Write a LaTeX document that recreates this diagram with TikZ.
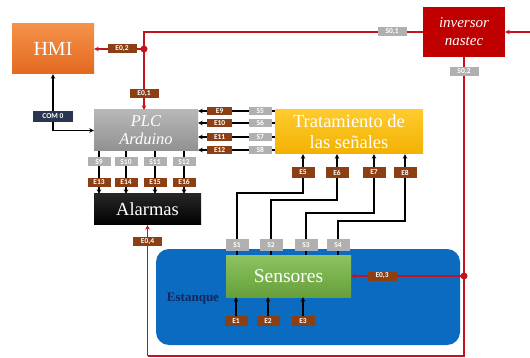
\documentclass[tikz,border=0pt]{standalone}
\usepackage{fontspec}
\setmainfont{Liberation Serif}
\setsansfont{Carlito}
\usepackage{xcolor}
\usepackage{tikz}
\usetikzlibrary{arrows.meta, positioning, calc}

\definecolor{hmitop}{HTML}{F5914A}
\definecolor{hmibot}{HTML}{E2691E}
\definecolor{invred}{HTML}{C00000}
\definecolor{plctop}{HTML}{B8B8B8}
\definecolor{plcbot}{HTML}{909090}
\definecolor{trattop}{HTML}{FFCB2E}
\definecolor{tratbot}{HTML}{F2B100}
\definecolor{alarmtop}{HTML}{262626}
\definecolor{alarmbot}{HTML}{000000}
\definecolor{senstop}{HTML}{8DC362}
\definecolor{sensbot}{HTML}{66A03A}
\definecolor{tankblue}{HTML}{0B6BC0}
\definecolor{tanktext}{HTML}{14265A}
\definecolor{labbrown}{HTML}{8B3F12}
\definecolor{labgray}{HTML}{B0B0B0}
\definecolor{comnavy}{HTML}{2A3650}
\definecolor{linered}{HTML}{C3141E}

\begin{document}
\begin{tikzpicture}[x=1pt, y=-1pt,
    block/.style={rectangle, text=white, align=center, inner sep=0pt},
    elab/.style={rectangle, fill=labbrown, text=white, font=\sffamily\bfseries\fontsize{7.5}{7.5}\selectfont, minimum width=23pt, minimum height=9pt, inner sep=0pt},
    slab/.style={elab, fill=labgray},
    dlab/.style={elab, minimum width=29pt},
    comlab/.style={elab, fill=comnavy, minimum width=40pt, minimum height=11pt},
    arr/.style={-{Stealth[length=4.5pt, width=4.5pt]}, line width=1.3pt},
    rarr/.style={arr, draw=linered, color=linered},
    rline/.style={line width=1.3pt, draw=linered},
    dot/.style={circle, fill=linered, minimum size=7pt, inner sep=0pt}
]
\useasboundingbox (0,0) rectangle (530,358);

% tank
\node[rectangle, rounded corners=13pt, fill=tankblue, minimum width=304pt, minimum height=96pt] (tank) at (308,297) {};
\node[font=\bfseries\fontsize{13}{13}\selectfont, text=tanktext] (estanque) at (193,299) {Estanque};

% blocks
\node[block, minimum width=82pt, minimum height=50pt, top color=hmitop, bottom color=hmibot,
    font=\fontsize{20}{20}\selectfont] (hmi) at (53,49) {HMI};
\node[block, minimum width=82pt, minimum height=50pt, fill=invred,
    font=\itshape\fontsize{15}{18}\selectfont] (inv) at (464,32) {inversor\\nastec};
\node[block, minimum width=104pt, minimum height=41pt, top color=plctop, bottom color=plcbot,
    font=\itshape\fontsize{16.5}{18}\selectfont] (plc) at (146,130.5) {PLC\\Arduino};
\node[block, minimum width=148pt, minimum height=44pt, top color=trattop, bottom color=tratbot,
    font=\fontsize{18.5}{21}\selectfont] (trat) at (349,132) {Tratamiento de\\las señales};
\node[block, minimum width=107pt, minimum height=31pt, top color=alarmtop, bottom color=alarmbot,
    font=\fontsize{18.5}{18.5}\selectfont] (alarm) at (147.5,209.5) {Alarmas};
\node[block, minimum width=125pt, minimum height=42pt, top color=senstop, bottom color=sensbot,
    font=\fontsize{19.5}{19.5}\selectfont] (sens) at (288.5,276) {Sensores};

% red power lines
\coordinate (j1) at (144,49);
\coordinate (ext) at (530,32);
\coordinate (rb) at (464,356);
\coordinate (lb) at (147.5,356);
\coordinate (j3) at (rb |- sens.east);

\draw[rline] (j1) -- (j1 |- inv.west) -- node[slab, pos=0.89, minimum width=29pt] {S0,1} (inv.west);
\draw[rarr] (ext) -- (inv.east);
\draw[rarr] (j1) -- node[dlab, pos=0.44] {E0,2} (hmi.east);
\draw[rarr] (j1) -- node[dlab, pos=0.74] {E0,1} (j1 |- plc.north);
\draw[rline] (inv.south) -- node[slab, pos=0.047, minimum width=29pt] {S0,2} (rb) -- (lb);
\draw[rarr] (lb) -- node[dlab, pos=0.874] {E0,4} (alarm.south);
\draw[rarr] (j3) -- node[dlab, pos=0.726] {E0,3} (sens.east);
\node[dot] (dot1) at (j1) {};
\node[dot] (dot3) at (j3) {};

% communication
\draw[{Stealth[length=4.5pt, width=4.5pt]}-{Stealth[length=4.5pt, width=4.5pt]}, line width=1.3pt]
    (hmi.south) -- node[comlab, pos=0.75] {COM 0} (hmi.south |- plc.west) -- (plc.west);

% PLC to alarms
\foreach \x/\i in {99/9, 126/10, 155/11, 184/12} {
    \pgfmathtruncatemacro\j{\i+4}
    \draw[arr] (plc.south -| \x,0) -- node[slab, pos=0.244] {S\i} node[elab, pos=0.73] {E\j} (alarm.north -| \x,0);
}

% signal treatment to PLC
\foreach \y/\i in {111/5, 123/6, 137/7, 150/8} {
    \pgfmathtruncatemacro\j{\i+4}
    \draw[arr] (trat.west |- 0,\y) -- node[slab, pos=0.19, minimum height=8pt] {S\i} node[elab, pos=0.72, minimum width=25pt, minimum height=8pt] {E\j} (plc.east |- 0,\y);
}

% sensors to signal treatment
\foreach \sx/\by/\tx/\n [count=\i] in {237/193/303/5, 271/200/337/6, 306/213/374/7, 338/221/405/8} {
    \draw[arr] (sens.north -| \sx,0) -- (\sx,\by) -| (trat.south -| \tx,0);
    \node[slab, minimum height=12pt] (s\i) at (\sx,245) {S\i};
    \node[elab, minimum height=11pt] (e\n) at (\tx,172.5) {E\n};
}

% sensor inputs
\foreach \x/\i in {236/1, 268/2, 303/3} {
    \node[elab, minimum height=10pt] (e\i) at (\x,321) {E\i};
    \draw[arr] (e\i) -- (sens.south -| e\i);
}

\end{tikzpicture}
\end{document}
